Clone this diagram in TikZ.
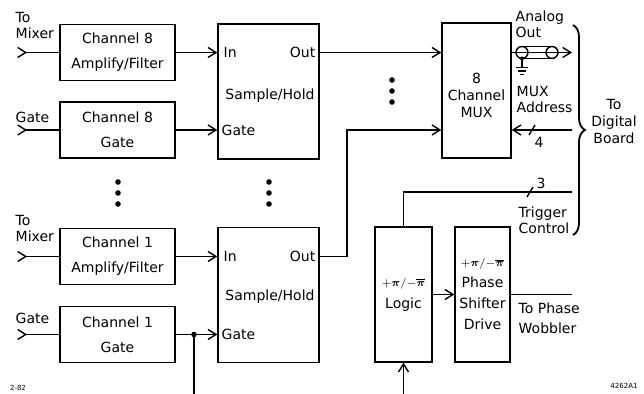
\documentclass[tikz,border=0pt]{standalone}
\usepackage{amsmath}
\usepackage{fontspec}
\setmainfont{DejaVu Sans}
\usetikzlibrary{positioning, arrows.meta, decorations.pathreplacing}

\newcommand{\pipm}{\scalebox{0.78}{$+\boldsymbol{\pi}/{-}\overline{\boldsymbol{\pi}}$}}

\begin{document}
\begin{tikzpicture}[
  x=0.5pt, y=-0.5pt, line width=0.7pt,
  every node/.style={font=\fontsize{7}{8}\selectfont, inner sep=0pt},
  blk/.style={draw, align=center, minimum width=57.5pt, minimum height=28pt,
              font=\fontsize{7}{12.5}\selectfont},
  shbox/.style={draw, minimum width=50.5pt, minimum height=67.5pt},
  tallbox/.style={draw, align=center, minimum height=67.5pt},
  arr/.style={-{Straight Barb[length=4pt,width=5pt]}},
  inarr/.style={{Straight Barb[reversed,length=4pt,width=5pt]}-},
  lbl/.style={align=left, anchor=west, font=\fontsize{7}{8}\selectfont},
  dot/.style={circle, fill, minimum size=2.8pt},
  tiny/.style={font=\fontsize{3.5}{4}\selectfont},
]
  \useasboundingbox (0,0) rectangle (644,394);

  % channel blocks
  \node[blk] (amp8) at (117.5,52.5) {Channel 8\\Amplify/Filter};
  \node[blk] (gate8) at (117.5,130) {Channel 8\\Gate};
  \node[blk] (amp1) at (117.5,256.5) {Channel 1\\Amplify/Filter};
  \node[blk] (gate1) at (117.5,334.5) {Channel 1\\Gate};

  \node[lbl] (mix8) at (15,26) {To\\Mixer};
  \node[lbl] (gin8) at (15,117) {Gate};
  \node[lbl] (mix1) at (15,229) {To\\Mixer};
  \node[lbl] (gin1) at (15,318) {Gate};

  \coordinate (i8) at (17,52.5);
  \coordinate (g8) at (17,130);
  \coordinate (i1) at (17,256.5);
  \coordinate (g1) at (17,334.5);
  \draw[inarr] (i8) -- (amp8.west);
  \draw[inarr] (g8) -- (gate8.west);
  \draw[inarr] (i1) -- (amp1.west);
  \draw[inarr] (g1) -- (gate1.west);

  % sample/hold
  \node[shbox] (sh8) at (268.5,91.5) {};
  \node[shbox] (sh1) at (268.5,295) {};
  \node[anchor=west] (in8) at (223,52.5) {In};
  \node[anchor=east] (out8) at (316,52.5) {Out};
  \node (txt8) at (270,96) {Sample/Hold};
  \node[anchor=west] (gt8) at (221,130) {Gate};
  \node[anchor=west] (in1) at (223,256.5) {In};
  \node[anchor=east] (out1) at (316,256.5) {Out};
  \node (txt1) at (270,297) {Sample/Hold};
  \node[anchor=west] (gt1) at (221,334.5) {Gate};

  \draw[arr] (amp8.east) -- (amp8.east -| sh8.west);
  \draw[arr] (gate8.east) -- (gate8.east -| sh8.west);
  \draw[arr] (amp1.east) -- (amp1.east -| sh1.west);
  \draw[arr] (gate1.east) -- (gate1.east -| sh1.west);

  \coordinate (jn) at (194,334.5);
  \coordinate (jbot) at (194,394);
  \node[dot] (jdot) at (jn) {};
  \draw (jn) -- (jbot);

  % dots between channels
  \foreach \i/\y in {1/182,2/193,3/204}{
    \node[dot] (dl\i) at (118,\y) {};
    \node[dot] (dm\i) at (269,\y) {};
  }
  \foreach \i/\y in {1/80,2/91,3/102}
    \node[dot] (dr\i) at (392,\y) {};

  % multiplexer
  \node[tallbox, minimum width=34.5pt] (mux) at (476.5,90.5) {};
  \node[align=center, font=\fontsize{7}{8.5}\selectfont] (muxtxt) at (476.5,95) {8\\Channel\\MUX};
  \coordinate (bend) at (347,130);
  \draw[arr] (sh8.east |- amp8.east) -- (amp8.east -| mux.west);
  \draw[arr] (sh1.east |- amp1.east) -| (bend) -- (bend -| mux.west);

  % analog out with coax
  \coordinate (aout) at (572,52.5);
  \draw[arr] (mux.east |- aout) -- (aout);
  \draw (522,52.5) circle (3pt);
  \draw (552,52.5) circle (3pt);
  \draw (522,46.5) -- (552,46.5);
  \draw (522,58.5) -- (552,58.5);
  \coordinate (gnd) at (522,58.5);
  \node[dot, minimum size=2pt] (gdot) at (gnd) {};
  \draw (gnd) -- ++(0,9);
  \draw (516,67.5) -- (528,67.5);
  \draw (518,71) -- (526,71);
  \draw (520,74.5) -- (524,74.5);
  \node[lbl] (aolbl) at (515,24) {Analog\\Out};

  % mux address
  \coordinate (addr) at (572,130);
  \draw[arr] (addr) -- (addr -| mux.east);
  \draw (529,135) -- (535,125);
  \node (n4) at (539,142) {4};
  \node[lbl] (malbl) at (516,100) {MUX\\Address};

  % logic and phase shifter
  \node[tallbox, minimum width=28.5pt, font=\fontsize{7}{11}\selectfont] (logic) at (403.5,294.5)
    {\pipm\\Logic};
  \node[tallbox, minimum width=27.5pt, font=\fontsize{7}{10.5}\selectfont] (phase) at (482.5,294.5)
    {\pipm\\Phase\\Shifter\\Drive};
  \draw[arr] (logic.east) -- (phase.west);
  \coordinate (wob) at (572,294.5);
  \draw (phase.east) -- (wob);
  \node[lbl, font=\fontsize{7}{10}\selectfont] (wlbl) at (518,318) {To Phase\\Wobbler};
  \coordinate (lin) at (403.5,394);
  \draw[arr] (lin) -- (logic.south);

  % trigger
  \coordinate (trg) at (572,192);
  \draw (logic.north) |- (trg);
  \draw (527,197) -- (533,187);
  \node (n3) at (541,183) {3};
  \node[lbl] (tclbl) at (518,220) {Trigger\\Control};

  % brace to digital board
  \coordinate (btop) at (573,25);
  \coordinate (bbot) at (573,235);
  \draw[decorate, decoration={brace, amplitude=6pt}, line width=0.9pt] (btop) -- (bbot);
  \node[align=center, font=\fontsize{7}{8.5}\selectfont] (dig) at (614,122) {To\\Digital\\Board};

  \node[tiny] (date) at (18,388) {2-82};
  \node[tiny] (fig) at (624,386) {4262A1};
\end{tikzpicture}
\end{document}
